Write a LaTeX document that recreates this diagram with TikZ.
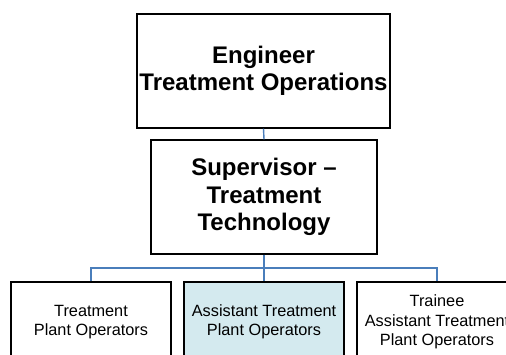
\documentclass[tikz,border=0pt]{standalone}
\usepackage{fontspec}
\setmainfont{Liberation Sans}
\definecolor{linkblue}{HTML}{4A7EBB}
\definecolor{lightfill}{HTML}{D4EAEF}
\begin{document}
\begin{tikzpicture}[x=1pt,y=-1pt,
  box/.style={draw=black,line width=1.3pt,fill=white,align=center,inner sep=0pt},
  bigbox/.style={box,font=\fontsize{24}{27.5}\selectfont\bfseries},
  smallbox/.style={box,font=\fontsize{16.3}{19.5}\selectfont,minimum width=160pt,minimum height=80pt},
  link/.style={draw=linkblue,line width=1.4pt}]
\useasboundingbox (0,0) rectangle (506,354);
\clip (0,0) rectangle (506,354);
\node[bigbox,minimum width=253pt,minimum height=114pt] (eng) at (263.5,71) {Engineer\\Treatment Operations};
\node[bigbox,minimum width=226pt,minimum height=114pt] (sup) at (264,197) {Supervisor --\\Treatment\\Technology};
\node[smallbox] (tpo) at (91,322) {Treatment\\Plant Operators};
\node[smallbox,fill=lightfill] (atpo) at (264,322) {Assistant Treatment\\Plant Operators};
\node[smallbox] (trainee) at (437,322) {Trainee\\Assistant Treatment\\Plant Operators};
\coordinate (bus) at (264,268);
\draw[link] (eng.south) -- (sup.north);
\draw[link] (sup.south) -- (bus);
\draw[link] (tpo.north) |- (bus) -| (trainee.north);
\draw[link] (bus) -- (atpo.north);
\end{tikzpicture}
\end{document}
